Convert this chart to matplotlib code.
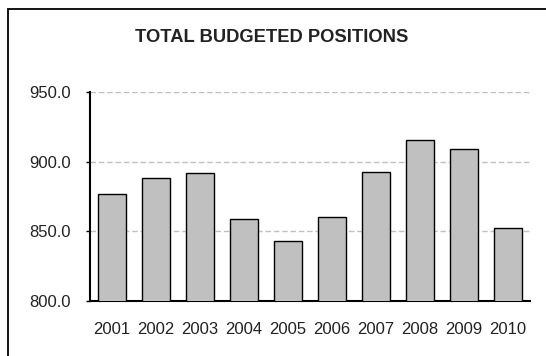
import matplotlib
matplotlib.use('Agg')
import matplotlib.pyplot as plt
from matplotlib.patches import Rectangle
from matplotlib.ticker import FormatStrFormatter

years = ['2001', '2002', '2003', '2004', '2005', '2006', '2007', '2008', '2009', '2010']
positions = [877, 888, 892, 859, 843, 860, 893, 916, 909, 852]
y_ticks = [800, 850, 900, 950]

plt.rcParams['font.family'] = ['Liberation Sans', 'DejaVu Sans']

fig = plt.figure(figsize=(5.46, 3.56), dpi=100)
ax = fig.add_axes([0.1648, 0.1553, 0.8059, 0.5854])

x = range(len(years))
ax.bar(x, positions, width=0.63, color='#c0c0c0', edgecolor='black', linewidth=1.0, zorder=3)

ax.set_ylim(800, 950)
ax.set_xlim(-0.5, len(years) - 0.5)
ax.set_yticks(y_ticks)
ax.yaxis.set_major_formatter(FormatStrFormatter('%.1f'))
ax.set_xticks(list(x))
ax.set_xticklabels(years)

ax.yaxis.grid(True, color='#c0c0c0', linestyle=(0, (4, 2)), linewidth=1.0, zorder=0)
ax.set_axisbelow(True)

for s in ['top', 'right']:
    ax.spines[s].set_visible(False)
ax.spines['left'].set_linewidth(1.5)
ax.spines['bottom'].set_linewidth(1.5)

ax.tick_params(axis='y', length=3, width=1, pad=11, labelsize=12, colors='black')
ax.tick_params(axis='x', length=0, pad=15, labelsize=12, colors='black')
for t in ax.get_yticklabels() + ax.get_xticklabels():
    t.set_color('#222222')

fig.text(0.497, 1 - 37.5 / 356, 'TOTAL BUDGETED POSITIONS', ha='center', va='center',
         fontsize=13.2, fontweight='bold', color='#222222')

# outer chart border (runs past the right/bottom edge)
fig.patches.append(Rectangle((8 / 546, -0.05), 1.0, 1.05 - 9 / 356, transform=fig.transFigure,
                             fill=False, edgecolor='black', linewidth=1.3))

fig.savefig('out.png', dpi=100)
